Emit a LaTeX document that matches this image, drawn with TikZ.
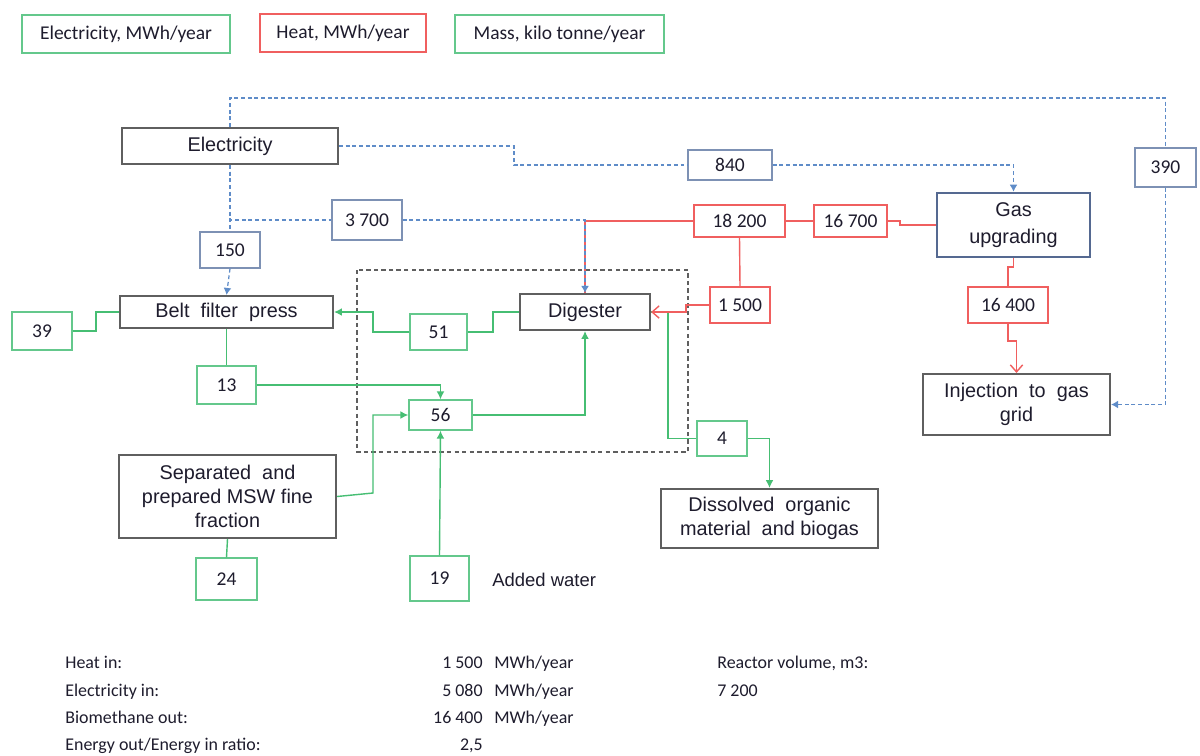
\documentclass[tikz,border=0pt]{standalone}
\usepackage{fontspec}
\setmainfont{Liberation Sans}
\newfontfamily\calfont{Carlito}
\usetikzlibrary{arrows.meta}
\newdimen\px \px=0.02cm
\definecolor{grn}{RGB}{100,200,140}
\definecolor{grnline}{RGB}{70,190,115}
\definecolor{redc}{RGB}{240,95,95}
\definecolor{bluec}{RGB}{95,140,200}
\definecolor{bluebox}{RGB}{125,145,180}
\definecolor{gasbox}{RGB}{85,105,145}
\definecolor{graybox}{RGB}{95,95,95}
\definecolor{txt}{RGB}{30,28,45}
\begin{document}
\begin{tikzpicture}[x=0.02cm,y=-0.02cm,
  every node/.style={text=txt},
  wh/.style 2 args={minimum width=#1\px, minimum height=#2\px},
  base/.style={draw, rectangle, inner sep=0pt, align=center},
  proc/.style={base, draw=graybox, line width=1.2pt, font=\fontsize{11.3}{13.5}\selectfont},
  gasproc/.style={base, draw=gasbox, line width=1.5pt, font=\fontsize{11.3}{15}\selectfont},
  gval/.style={base, draw=grn, line width=0.8pt, font=\calfont\fontsize{11.1}{13.5}\selectfont},
  rval/.style={base, draw=redc, line width=0.8pt, font=\calfont\fontsize{11.1}{13.5}\selectfont},
  bval/.style={base, draw=bluebox, line width=0.8pt, font=\calfont\fontsize{11.1}{13.5}\selectfont},
  gline/.style={draw=grnline, line width=0.8pt},
  garrow/.style={gline, -{Latex[length=4.5pt,width=4.5pt]}},
  rline/.style={draw=redc, line width=0.8pt},
  rarrow/.style={rline, -{Straight Barb[length=4pt,width=7pt]}},
  eline/.style={draw=bluec, line width=0.7pt, dash pattern=on 2.2pt off 1.6pt},
  earrow/.style={eline, -{Latex[length=4pt,width=4.5pt]}},
  bottomtxt/.style={font=\calfont\fontsize{10.2}{12}\selectfont, inner sep=0pt}
]
\useasboundingbox[fill=white] (0,0) rectangle (1200,755);

% legend
\node[gval, wh={208}{38}] (legE) at (126,34) {Electricity, MWh/year};
\node[rval, wh={166}{38}] (legH) at (343,33) {Heat, MWh/year};
\node[gval, wh={209}{38}] (legM) at (559.5,34) {Mass, kilo tonne/year};

% reactor boundary
\draw[graybox, line width=0.7pt, dash pattern=on 2.5pt off 1.8pt] (357,270) rectangle (688,452);

% process boxes
\node[proc, wh={216}{36}] (elec) at (230,146) {Electricity};
\node[gasproc, wh={153}{64}] (gas) at (1013.5,225) {Gas\\upgrading};
\node[proc, wh={213}{32}] (belt) at (226.5,312) {Belt\ \ filter\ \ press};
\node[proc, wh={130}{36}] (dig) at (585,312) {Digester};
\node[proc, wh={217}{83}] (sep) at (227.5,496.5) {Separated\ \ and\\prepared MSW fine\\fraction};
\node[proc, wh={217}{59}] (dis) at (769.5,518.5) {Dissolved\ \ organic\\material\ \ and biogas};
\node[proc, wh={187}{61}] (inj) at (1016.5,404.5) {Injection\ \ to\ \ gas\\grid};

% electricity values
\node[bval, wh={84}{30}] (n840) at (730,165) {840};
\node[bval, wh={61}{39}] (n390) at (1165.5,167.5) {390};
\node[bval, wh={60}{36}] (n150) at (230,250) {150};
\node[bval, wh={70}{40}] (n3700) at (367,220) {3 700};

% heat values
\node[rval, wh={91}{32}] (n18200) at (739.5,221) {18 200};
\node[rval, wh={73}{32}] (n16700) at (850.5,221) {16 700};
\node[rval, wh={60}{36}] (n1500) at (740,305) {1 500};
\node[rval, wh={80}{36}] (n16400) at (1008,305) {16 400};

% mass values
\node[gval, wh={60}{38}] (n39) at (42,331) {39};
\node[gval, wh={59}{38}] (n13) at (226.5,385) {13};
\node[gval, wh={57}{36}] (n51) at (438.5,332) {51};
\node[gval, wh={63}{30}] (n56) at (440.5,415) {56};
\node[gval, wh={59}{45}] (n19) at (439.5,578.5) {19};
\node[gval, wh={61}{42}] (n24) at (226.5,579) {24};
\node[gval, wh={50}{35}] (n4) at (722,438.5) {4};
\node[anchor=west, font=\fontsize{10.5}{12}\selectfont, inner sep=0pt] (water) at (492,580) {Added water};

% heat connectors
\draw[rline] (n18200.west) -| (dig.north);
\draw[rline] (n18200.east) -- (n16700.west);
\draw[rline] (n16700.east) -- (900,221) |- (gas.west);
\draw[rline] (n18200.south) -- (n1500.north);
\draw[rline] (gas.south) -- (1013.5,267) -| (n16400.north);
\draw[rarrow] (n16400.south) -- (1008,341) -| (inj.north);

% electricity connectors
\draw[eline] (elec.north) |- (1165.5,98) -- (n390.north);
\draw[earrow] (n390.south) |- (inj.east);
\draw[eline] (elec.east) -- (514,146) |- (n840.west);
\draw[earrow] (n840.east) -| (gas.north);
\draw[eline] (elec.south) |- (n3700.west);
\draw[eline] (elec.south) -- (n150.north);
\draw[earrow] (n3700.east) -| (dig.north);
\draw[earrow] (n150.south) -- (belt.north);

% mass connectors
\draw[gline] (n39.east) -- (96,331) |- (belt.west);
\draw[gline] (belt.south) -- (n13.north);
\draw[garrow] (n13.east) -| (n56.north);
\draw[gline] (dig.west) -- (493,312) |- (n51.east);
\draw[garrow] (n51.west) -- (373,332) |- (belt.east);
\draw[garrow] (n56.east) -| (dig.south);
\draw[garrow] (sep.east) -- (373,493) |- (n56.west);
\draw[garrow] (n19.north) -- (n56.south);
\draw[gline] (sep.south) -- (n24.north);
\draw[gline] (dig.east) -- (668,312) |- (n4.west);
\draw[garrow] (n4.east) -| (dis.north);
\draw[rarrow] (n1500.west) -- (686,305) |- (dig.east);

% summary text
\node[bottomtxt, anchor=base west] (t1) at (65,668) {Heat in:};
\node[bottomtxt, anchor=base west] (t2) at (65,696) {Electricity in:};
\node[bottomtxt, anchor=base west] (t3) at (65,723) {Biomethane out:};
\node[bottomtxt, anchor=base west] (t4) at (65,750) {Energy out/Energy in ratio:};
\node[bottomtxt, anchor=base east] (v1) at (483,668) {1 500};
\node[bottomtxt, anchor=base east] (v2) at (483,696) {5 080};
\node[bottomtxt, anchor=base east] (v3) at (483,723) {16 400};
\node[bottomtxt, anchor=base east] (v4) at (483,750) {2,5};
\node[bottomtxt, anchor=base west] (u1) at (494,668) {MWh/year};
\node[bottomtxt, anchor=base west] (u2) at (494,696) {MWh/year};
\node[bottomtxt, anchor=base west] (u3) at (494,723) {MWh/year};
\node[bottomtxt, anchor=base west] (r1) at (717,668) {Reactor volume, m3:};
\node[bottomtxt, anchor=base west] (r2) at (717,696) {7 200};
\end{tikzpicture}
\end{document}
